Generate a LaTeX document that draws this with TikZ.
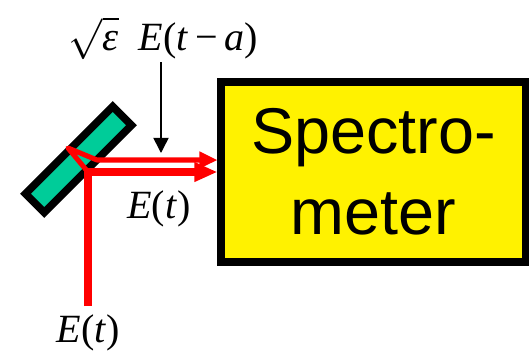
\documentclass[tikz,border=0pt]{standalone}
\usepackage{fontspec}
\setmainfont{Liberation Serif}
\setsansfont{Liberation Sans}
\usetikzlibrary{arrows.meta}

\begin{document}
\begin{tikzpicture}[
    x=0.025cm, y=-0.025cm,
    label/.style={font=\fontsize{28.5}{33}\selectfont, inner sep=0pt},
    mirror/.style={draw=black, line width=5.4pt, fill={rgb,255:red,0;green,204;blue,153}, rotate=45, minimum width=3.08cm, minimum height=0.66cm, inner sep=0pt},
    meter/.style={draw=black, line width=5.67pt, fill=yellow, align=center, inner sep=0pt, minimum width=7.6cm, minimum height=4.5cm, font=\sffamily\fontsize{46}{58}\selectfont},
    beam/.style={draw=red, line width=5.4pt, -{Triangle[length=0.58cm, width=0.46cm]}},
    echo/.style={draw=red, line width=3.6pt, line join=round, -{Triangle[length=0.45cm, width=0.4cm]}},
    probe/.style={-{Triangle[length=0.38cm, width=0.38cm]}, line width=1.1pt}
]
\useasboundingbox (0,0) rectangle (529,351);
\node[mirror] (mirror) at (78.5,159.5) {};
\node[meter] (spectro) at (373.5,171.6) {Spectro-\\meter};
\coordinate (source) at (88,306);
\coordinate (turn) at (88,172);
\coordinate (hit) at (68,148);
\coordinate (bend) at (97,160);
\coordinate (tipa) at (217.5,160);
\coordinate (tipb) at (217.5,172);
\coordinate (drop) at (161,62);
\coordinate (dropend) at (161,153);
% reflected beam
\draw[echo] (turn) -- (hit) -- (bend) -- (tipa);
% incoming beam
\draw[beam] (source) -- (turn) -- (tipb);
\draw[probe] (drop) -- (dropend);
\node[label, anchor=base] (top) at (163.5,50) {\scalebox{2.9}{\normalsize$\sqrt{\mbox{\textit{ε}}}$}\,\,\,\textit{E}(\textit{t}\,−\,\textit{a})};
\node[label] (mid) at (159,209) {\textit{E}(\textit{t})};
\node[label] (low) at (88.5,333) {\textit{E}(\textit{t})};
\end{tikzpicture}
\end{document}
